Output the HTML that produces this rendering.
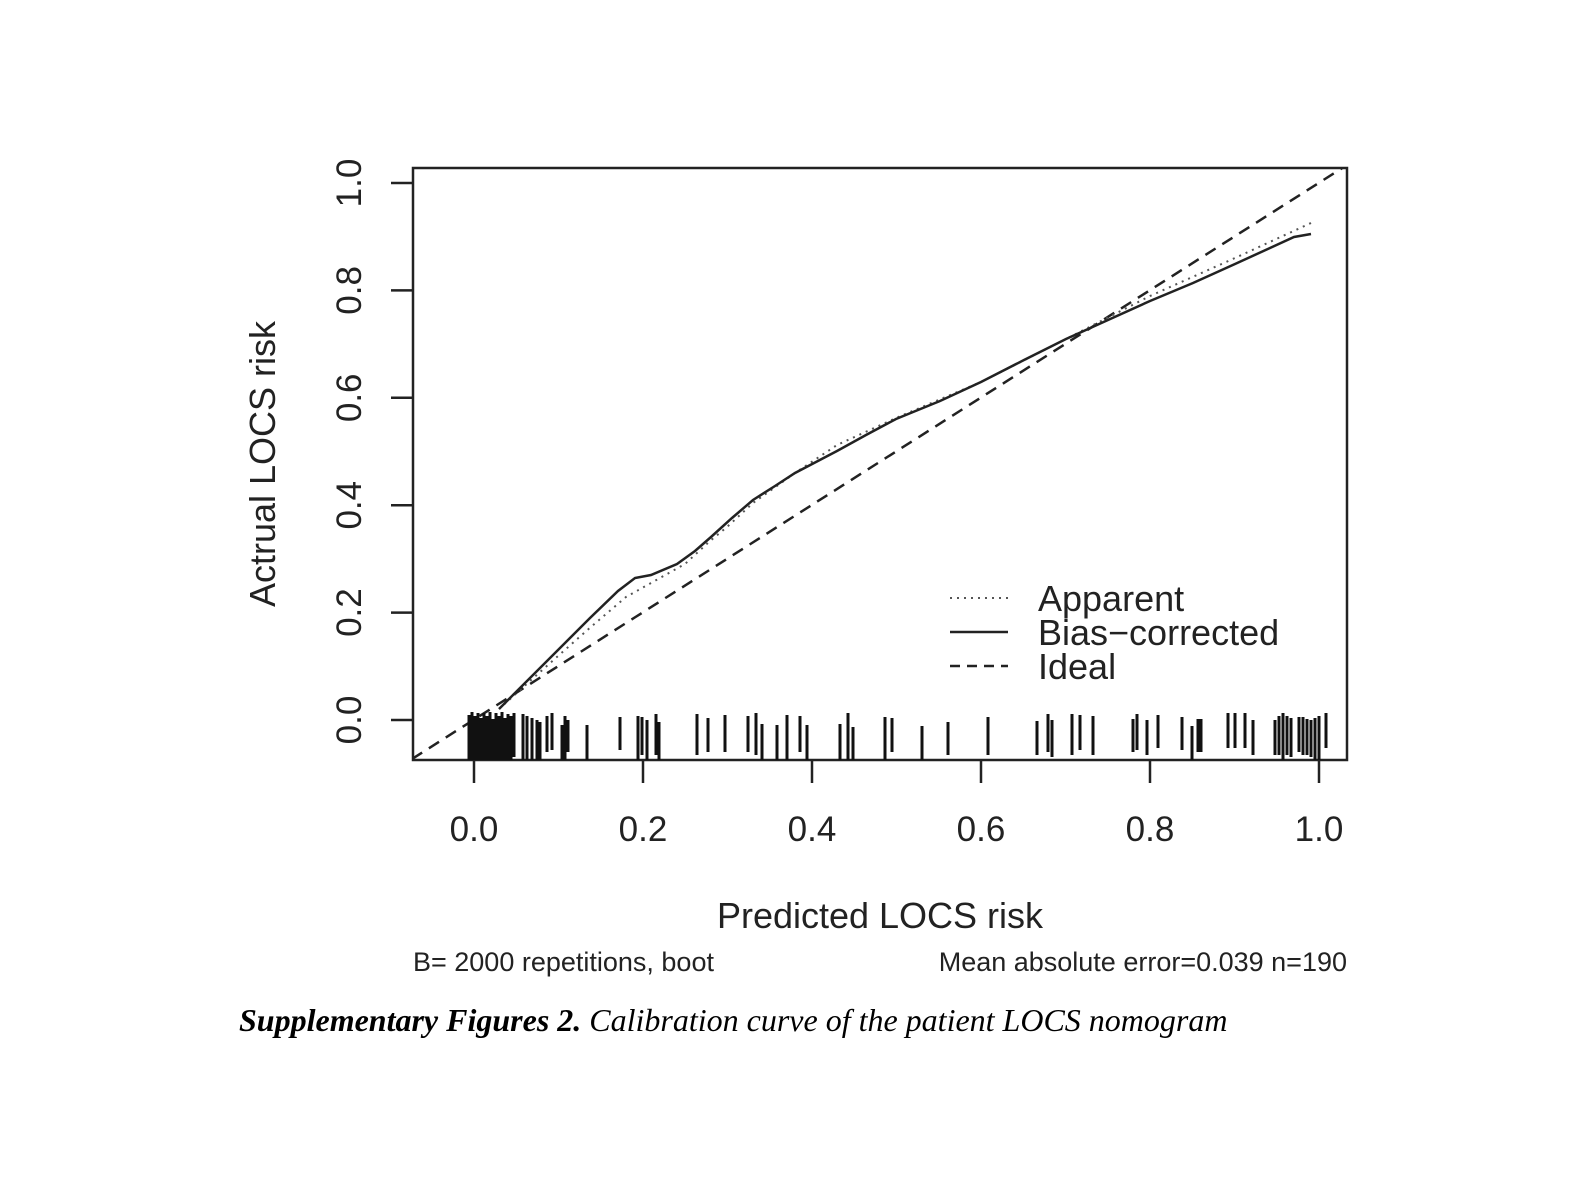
<!DOCTYPE html>
<html><head><meta charset="utf-8"><style>
html,body{margin:0;padding:0;background:#fff;}
svg{display:block;}
text{font-family:"Liberation Sans",sans-serif;fill:#222;}
</style></head><body>
<svg width="1587" height="1196" viewBox="0 0 1587 1196" xmlns="http://www.w3.org/2000/svg">
<rect width="1587" height="1196" fill="#fff"/>
<defs><clipPath id="c"><rect x="413" y="168" width="934" height="592"/></clipPath></defs>
<rect x="413" y="168" width="934" height="592" fill="none" stroke="#222" stroke-width="2.5"/>
<g stroke="#222" stroke-width="2.5">
<line x1="391" y1="720" x2="413" y2="720"/><line x1="391" y1="612.6" x2="413" y2="612.6"/>
<line x1="391" y1="505.2" x2="413" y2="505.2"/><line x1="391" y1="397.8" x2="413" y2="397.8"/>
<line x1="391" y1="290.4" x2="413" y2="290.4"/><line x1="391" y1="183" x2="413" y2="183"/>
<line x1="474" y1="760" x2="474" y2="783"/><line x1="643" y1="760" x2="643" y2="783"/>
<line x1="812" y1="760" x2="812" y2="783"/><line x1="981" y1="760" x2="981" y2="783"/>
<line x1="1150" y1="760" x2="1150" y2="783"/><line x1="1319" y1="760" x2="1319" y2="783"/>
</g>
<g font-size="35" text-anchor="middle">
<text transform="translate(361,720) rotate(-90)">0.0</text>
<text transform="translate(361,612.6) rotate(-90)">0.2</text>
<text transform="translate(361,505.2) rotate(-90)">0.4</text>
<text transform="translate(361,397.8) rotate(-90)">0.6</text>
<text transform="translate(361,290.4) rotate(-90)">0.8</text>
<text transform="translate(361,183) rotate(-90)">1.0</text>
<text x="474" y="841">0.0</text><text x="643" y="841">0.2</text><text x="812" y="841">0.4</text>
<text x="981" y="841">0.6</text><text x="1150" y="841">0.8</text><text x="1319" y="841">1.0</text>
</g>
<text font-size="36" text-anchor="middle" transform="translate(275,464) rotate(-90)">Actrual LOCS risk</text>
<text font-size="36" x="880" y="928" text-anchor="middle">Predicted LOCS risk</text>
<text font-size="27" x="413" y="971">B= 2000 repetitions, boot</text>
<text font-size="27" x="1347" y="971" text-anchor="end">Mean absolute error=0.039 n=190</text>
<g clip-path="url(#c)">
<line x1="412" y1="759" x2="1347" y2="165" stroke="#222" stroke-width="2.5" stroke-dasharray="12,8"/>
<polyline fill="none" stroke="#555" stroke-width="2" stroke-dasharray="2,5" points="499,709 530,681 558,656 592,626 626,597 651,583 685,564 710,541 727,527 753,503 795,473 837,445 896,418 981,382 1066,339 1150,296 1235,258 1311,223"/>
<polyline fill="none" stroke="#222" stroke-width="2.5" points="499,709 530,678 558,650 590,618 618,591 635,578 651,575 677,564 695,551 711,537 732,518 753,500 775,486 795,473 837,451 866,435 896,419 940,401 981,382 1024,360 1066,339 1108,320 1150,301 1193,283 1235,264 1270,248 1294,237 1311,234"/>
<g stroke="#111" stroke-width="3">
<line x1="469" y1="715" x2="469" y2="760"/><line x1="472" y1="712" x2="472" y2="760"/><line x1="475" y1="716" x2="475" y2="760"/>
<line x1="478" y1="713" x2="478" y2="760"/><line x1="481" y1="718" x2="481" y2="760"/><line x1="484" y1="713" x2="484" y2="760"/>
<line x1="487" y1="716" x2="487" y2="760"/><line x1="490" y1="712" x2="490" y2="760"/><line x1="493" y1="719" x2="493" y2="760"/>
<line x1="496" y1="713" x2="496" y2="760"/><line x1="499" y1="716" x2="499" y2="760"/><line x1="502" y1="712" x2="502" y2="760"/>
<line x1="505" y1="718" x2="505" y2="760"/><line x1="508" y1="714" x2="508" y2="760"/><line x1="511" y1="716" x2="511" y2="760"/>
<line x1="514" y1="713" x2="514" y2="757"/>
<line x1="523" y1="714" x2="523" y2="760"/><line x1="527" y1="716" x2="527" y2="760"/><line x1="532" y1="718" x2="532" y2="760"/>
<line x1="537" y1="720" x2="537" y2="760"/><line x1="540" y1="722" x2="540" y2="760"/><line x1="547" y1="716" x2="547" y2="752"/>
<line x1="552" y1="713" x2="552" y2="750"/><line x1="562" y1="725" x2="562" y2="760"/><line x1="565" y1="716" x2="565" y2="760"/>
<line x1="568" y1="720" x2="568" y2="752"/><line x1="587" y1="725" x2="587" y2="760"/><line x1="620" y1="717" x2="620" y2="750"/>
<line x1="638" y1="716" x2="638" y2="760"/><line x1="642" y1="717" x2="642" y2="755"/><line x1="647" y1="720" x2="647" y2="760"/>
<line x1="656" y1="714" x2="656" y2="755"/><line x1="659" y1="722" x2="659" y2="760"/><line x1="697" y1="714" x2="697" y2="755"/>
<line x1="708" y1="718" x2="708" y2="752"/><line x1="725" y1="715" x2="725" y2="752"/><line x1="748" y1="716" x2="748" y2="752"/>
<line x1="756" y1="713" x2="756" y2="755"/><line x1="762" y1="724" x2="762" y2="760"/><line x1="777" y1="725" x2="777" y2="760"/>
<line x1="787" y1="715" x2="787" y2="760"/><line x1="800" y1="716" x2="800" y2="752"/><line x1="807" y1="725" x2="807" y2="760"/>
<line x1="840" y1="724" x2="840" y2="760"/><line x1="848" y1="713" x2="848" y2="760"/><line x1="853" y1="727" x2="853" y2="760"/>
<line x1="885" y1="717" x2="885" y2="760"/><line x1="892" y1="718" x2="892" y2="752"/><line x1="922" y1="726" x2="922" y2="760"/>
<line x1="948" y1="722" x2="948" y2="755"/><line x1="988" y1="717" x2="988" y2="755"/><line x1="1037" y1="721" x2="1037" y2="755"/>
<line x1="1048" y1="714" x2="1048" y2="752"/><line x1="1052" y1="720" x2="1052" y2="757"/><line x1="1072" y1="714" x2="1072" y2="755"/>
<line x1="1080" y1="715" x2="1080" y2="750"/><line x1="1093" y1="716" x2="1093" y2="755"/><line x1="1133" y1="719" x2="1133" y2="752"/>
<line x1="1137" y1="714" x2="1137" y2="750"/><line x1="1147" y1="720" x2="1147" y2="755"/><line x1="1158" y1="715" x2="1158" y2="748"/>
<line x1="1182" y1="717" x2="1182" y2="750"/><line x1="1192" y1="726" x2="1192" y2="760"/><line x1="1198" y1="719" x2="1198" y2="752"/>
<line x1="1201" y1="719" x2="1201" y2="752"/><line x1="1228" y1="713" x2="1228" y2="748"/><line x1="1235" y1="713" x2="1235" y2="748"/>
<line x1="1245" y1="713" x2="1245" y2="748"/><line x1="1253" y1="720" x2="1253" y2="755"/>
<line x1="1275" y1="720" x2="1275" y2="755"/><line x1="1279" y1="716" x2="1279" y2="755"/><line x1="1283" y1="713" x2="1283" y2="760"/>
<line x1="1287" y1="716" x2="1287" y2="755"/><line x1="1291" y1="718" x2="1291" y2="757"/><line x1="1299" y1="717" x2="1299" y2="752"/>
<line x1="1303" y1="717" x2="1303" y2="755"/><line x1="1307" y1="719" x2="1307" y2="755"/><line x1="1311" y1="720" x2="1311" y2="757"/>
<line x1="1315" y1="718" x2="1315" y2="760"/><line x1="1319" y1="716" x2="1319" y2="760"/><line x1="1326" y1="713" x2="1326" y2="748"/>
</g>
</g>
<g stroke="#222">
<line x1="950" y1="598" x2="1008" y2="598" stroke-width="2" stroke-dasharray="2,5" stroke="#555"/>
<line x1="950" y1="632" x2="1008" y2="632" stroke-width="2.5"/>
<line x1="950" y1="666" x2="1008" y2="666" stroke-width="2.5" stroke-dasharray="10,7"/>
</g>
<g font-size="36">
<text x="1038" y="611">Apparent</text>
<text x="1038" y="645">Bias−corrected</text>
<text x="1038" y="679">Ideal</text>
</g>
<text x="239" y="1031" font-size="32" font-style="italic" style="font-family:'Liberation Serif',serif;fill:#000"><tspan font-weight="bold">Supplementary Figures 2.</tspan> Calibration curve of the patient LOCS nomogram</text>
</svg>
</body></html>
